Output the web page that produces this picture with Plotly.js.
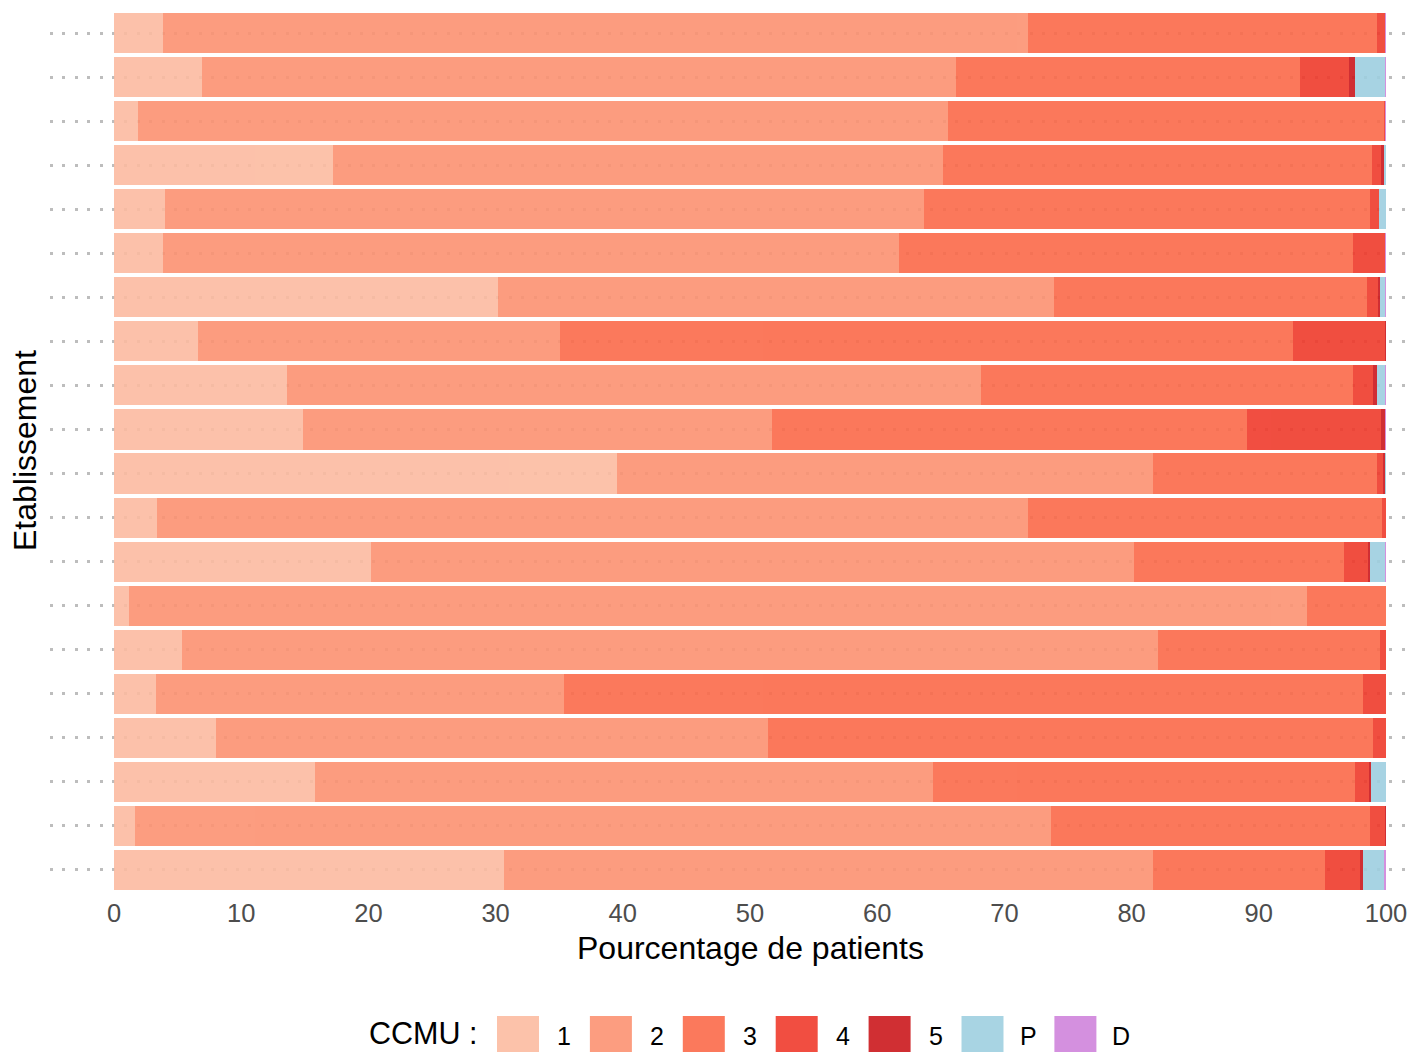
<!DOCTYPE html>
<html>
<head>
<meta charset="utf-8">
<script src="https://cdn.plot.ly/plotly-3.0.1.min.js"></script>
<style>html,body{margin:0;padding:0;background:#fff;}#chart{width:1412px;height:1052px;}</style>
</head>
<body>
<div id="chart"></div>
<script>
// Establishments (top to bottom), anonymised
const etablissements = ["E01","E02","E03","E04","E05","E06","E07","E08","E09","E10",
                        "E11","E12","E13","E14","E15","E16","E17","E18","E19","E20"];
// CCMU levels
const ccmuLevels = ["1","2","3","4","5","P","D"];
const ccmuColors = ["#FCBBA1","#FC9272","#FB6A4A","#EF3B2C","#CB181D","#9ECFE0","#CF84DB"];
// Percent of patients per CCMU level, per establishment
const ccmu1 = [3.85,6.92,1.89,17.22,4.0,3.85,30.19,6.6,13.6,14.86,39.54,3.38,20.2,1.18,5.35,3.3,8.02,15.8,1.65,30.66];
const ccmu2 = [68.0,59.28,63.68,47.95,59.68,57.86,43.71,28.46,54.56,36.87,42.14,68.48,59.99,92.61,76.73,32.08,43.4,48.59,72.01,51.02];
const ccmu3 = [27.45,27.04,34.27,33.73,35.06,35.69,24.6,57.63,29.24,37.34,17.61,27.83,16.51,6.18,17.45,62.81,47.56,33.17,25.08,13.52];
const ccmu4 = [0.65,3.86,0.12,0.7,0.71,2.5,0.9,7.26,1.58,10.53,0.47,0.28,1.88,0,0.44,1.78,0.99,1.1,1.18,2.76];
const ccmu5 = [0,0.48,0,0.24,0,0.05,0.1,0.05,0.32,0.34,0.16,0,0.16,0,0,0,0,0.16,0.05,0.23];
const ccmuP = [0,2.32,0,0.16,0.52,0,0.45,0,0.65,0,0.08,0.03,1.21,0.03,0.03,0,0,1.18,0,1.65];
const ccmuD = [0.05,0.1,0.04,0,0.05,0.05,0.05,0,0.05,0.06,0,0,0.05,0,0,0.03,0.03,0,0.03,0.16];

const seriesValues = [ccmu1,ccmu2,ccmu3,ccmu4,ccmu5,ccmuP,ccmuD];

const W = 1412, H = 1052;
const mL = 50, mR = 0, mT = 11, mB = 160;
const pw = W - mL - mR, ph = H - mT - mB;
const font = "Liberation Sans, Arial, sans-serif";

const traces = ccmuLevels.map((lvl, i) => ({
  type: "bar",
  orientation: "h",
  name: lvl,
  y: etablissements,
  x: seriesValues[i],
  marker: {color: ccmuColors[i], line: {width: 0}},
  opacity: 0.9,
  showlegend: false,
  hoverinfo: "skip"
}));

// custom legend (pixel -> paper)
const px2x = p => (p - mL) / pw;
const py2y = p => (H - mB - p) / ph;
const shapes = [], annotations = [];
const keyX0 = 497, keyPitch = 92.9, keyW = 42, keyTop = 1016, keyBot = 1053;
ccmuLevels.forEach((lvl, i) => {
  const x0 = keyX0 + i * keyPitch;
  shapes.push({type: "rect", xref: "paper", yref: "paper",
    x0: px2x(x0), x1: px2x(x0 + keyW), y0: py2y(keyBot), y1: py2y(keyTop),
    fillcolor: ccmuColors[i], opacity: 0.9, line: {width: 0}, layer: "above"});
  annotations.push({xref: "paper", yref: "paper", x: px2x(x0 + keyW + 25), y: py2y(1052),
    text: lvl, showarrow: false, xanchor: "center", yanchor: "bottom",
    font: {family: font, size: 25, color: "#000"}});
});
annotations.push({xref: "paper", yref: "paper", x: px2x(479), y: py2y(1052),
  text: "CCMU :", showarrow: false, xanchor: "right", yanchor: "bottom",
  font: {family: font, size: 30.5, color: "#000"}});
// y-axis title
annotations.push({xref: "paper", yref: "paper", x: px2x(25), y: py2y(451),
  text: "Etablissement", showarrow: false, xanchor: "center", yanchor: "middle",
  textangle: -90, font: {family: font, size: 32, color: "#000"}});
// x-axis title, centred on the 0-100 range
annotations.push({xref: "x", yref: "paper", x: 50, y: py2y(948),
  text: "Pourcentage de patients", showarrow: false, xanchor: "center", yanchor: "middle",
  font: {family: font, size: 32, color: "#000"}});

const pxPerUnit = (1386 - 114) / 100;
const layout = {
  width: W, height: H,
  margin: {l: mL, r: mR, t: mT, b: mB, pad: 0},
  paper_bgcolor: "#fff", plot_bgcolor: "#fff",
  barmode: "stack",
  bargap: 0.09,
  showlegend: false,
  font: {family: font},
  xaxis: {
    range: [-(114 - mL) / pxPerUnit, 100 + (W - 1386) / pxPerUnit],
    tickvals: [0,10,20,30,40,50,60,70,80,90,100],
    ticktext: ["0","10","20","30","40","50","60","70","80","90","100"],
    showgrid: false, zeroline: false, showline: false, ticks: "",
    ticklabelstandoff: 3,
    tickfont: {family: font, size: 25.5, color: "#4D4D4D"},
    automargin: false, fixedrange: true
  },
  yaxis: {
    type: "category",
    categoryorder: "array", categoryarray: etablissements,
    autorange: "reversed",
    showticklabels: false, ticks: "",
    showgrid: true, gridcolor: "#BDBDBD", gridwidth: 3, griddash: "3px,9.4px",
    zeroline: false, showline: false,
    automargin: false, fixedrange: true
  },
  shapes: shapes,
  annotations: annotations
};

Plotly.newPlot("chart", traces, layout, {staticPlot: true, displayModeBar: false});
</script>
</body>
</html>
